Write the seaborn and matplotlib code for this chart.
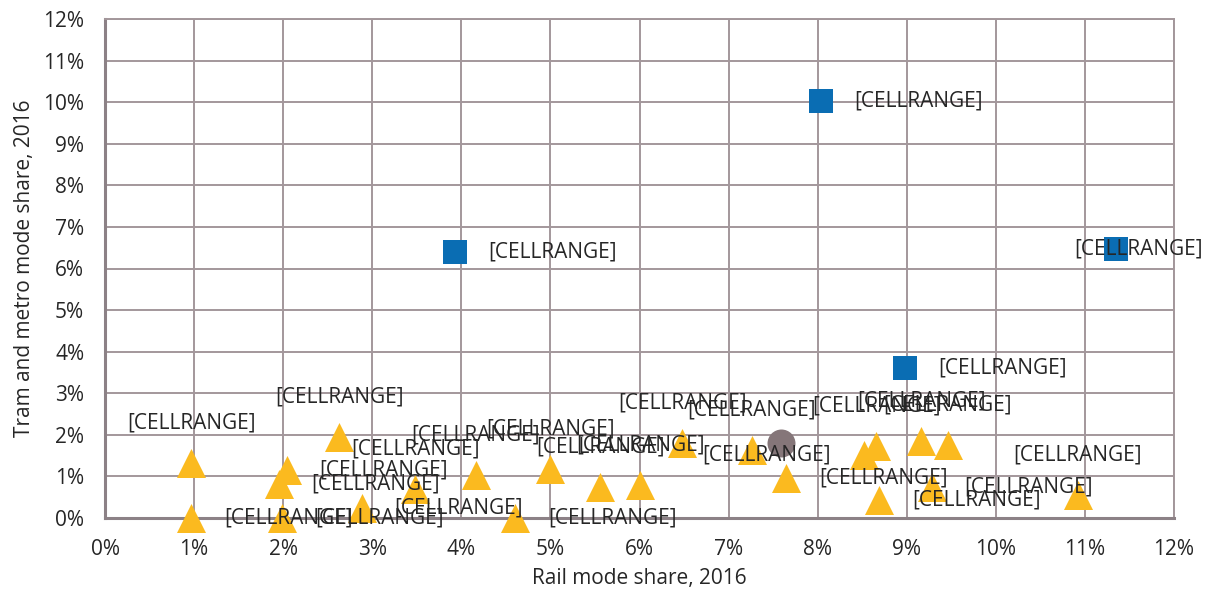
import matplotlib
matplotlib.use("Agg")
import matplotlib.pyplot as plt
import pandas as pd
import seaborn as sns
from matplotlib.ticker import MultipleLocator, PercentFormatter

# rail share vs tram+metro share, in percent
blue_rail = [3.93, 8.04, 11.35, 8.98]
blue_tram = [6.39, 10.02, 6.47, 3.60]

grey_rail = [7.59]
grey_tram = [1.80]

yellow_rail = [0.97, 0.97, 2.04, 1.95, 1.99, 2.63, 2.88, 3.48, 4.16, 4.60, 5.00,
               5.56, 6.01, 6.48, 7.26, 7.65, 8.52, 8.66, 8.69, 9.16, 9.46, 9.28,
               10.92]
yellow_tram = [1.32, 0.00, 1.15, 0.82, 0.00, 1.94, 0.25, 0.70, 1.03, 0.00, 1.18,
               0.74, 0.79, 1.81, 1.63, 0.96, 1.51, 1.73, 0.43, 1.85, 1.75, 0.74,
               0.55]

label_text = "[CELLRANGE]"

# where each data label sits relative to its marker
blue_pos = ["right", "right", "center", "right"]
yellow_pos = ["above", "right", "right", "right", "right", "above", "right",
              "above", "above", "right", "above", "above", "above", "above",
              "above", "right", "left", "above", "right", "above", "above",
              "right", "above"]

BLUE = "#0A6DB3"
YELLOW = "#FBBA1F"
GREY = "#857679"
GRID = "#A3979B"
TEXT = "#262626"

sns.set_style("white")
plt.rcParams["font.family"] = ["Open Sans", "DejaVu Sans"]

fig = plt.figure(figsize=(12.1, 5.92), dpi=100)
ax = fig.add_axes([105 / 1210, 1 - 518 / 592, (1174 - 105) / 1210, (518 - 19) / 592])

blue = pd.DataFrame({"rail": blue_rail, "tram": blue_tram})
grey = pd.DataFrame({"rail": grey_rail, "tram": grey_tram})
yellow = pd.DataFrame({"rail": yellow_rail, "tram": yellow_tram})

sns.scatterplot(blue, x="rail", y="tram", marker="s", s=275, color=BLUE,
                linewidth=0, ax=ax, zorder=3, clip_on=False)
sns.scatterplot(grey, x="rail", y="tram", marker="o", s=406, color=GREY,
                linewidth=0, ax=ax, zorder=3, clip_on=False)
sns.scatterplot(yellow, x="rail", y="tram", marker="^", s=436, color=YELLOW,
                linewidth=0, ax=ax, zorder=4, clip_on=False)

PX = 0.72  # points per pixel at 100 dpi
offsets = {
    "above": ((0, 40 * PX), "center"),
    "right": ((33 * PX, 0), "left"),
    "left": ((-33 * PX, 0), "right"),
    "center": ((22 * PX, 0), "center"),
}


def add_labels(df, positions):
    for (x, y), pos in zip(df[["rail", "tram"]].values, positions):
        xytext, ha = offsets[pos]
        ax.annotate(label_text, (x, y), xytext=xytext, textcoords="offset points",
                    ha=ha, va="center", fontsize=15, color=TEXT, zorder=5,
                    annotation_clip=False)


add_labels(blue, blue_pos)
add_labels(yellow, yellow_pos)

ax.set_xlim(0, 12)
ax.set_ylim(0, 12)
ax.xaxis.set_major_locator(MultipleLocator(1))
ax.yaxis.set_major_locator(MultipleLocator(1))
ax.xaxis.set_major_formatter(PercentFormatter(decimals=0))
ax.yaxis.set_major_formatter(PercentFormatter(decimals=0))
ax.grid(True, color=GRID, linewidth=1.4)
ax.set_axisbelow(True)
ax.tick_params(length=0, pad=15, labelsize=15, labelcolor=TEXT)

for side in ["top", "right"]:
    ax.spines[side].set_color(GRID)
    ax.spines[side].set_linewidth(1.4)
for side in ["left", "bottom"]:
    ax.spines[side].set_color("#8C8186")
    ax.spines[side].set_linewidth(2.2)

ax.set_xlabel("Rail mode share, 2016", fontsize=15, color=TEXT, labelpad=6)
ax.set_ylabel("Tram and metro mode share, 2016", fontsize=15, color=TEXT,
              labelpad=6)

fig.savefig("out.png", dpi=100)
